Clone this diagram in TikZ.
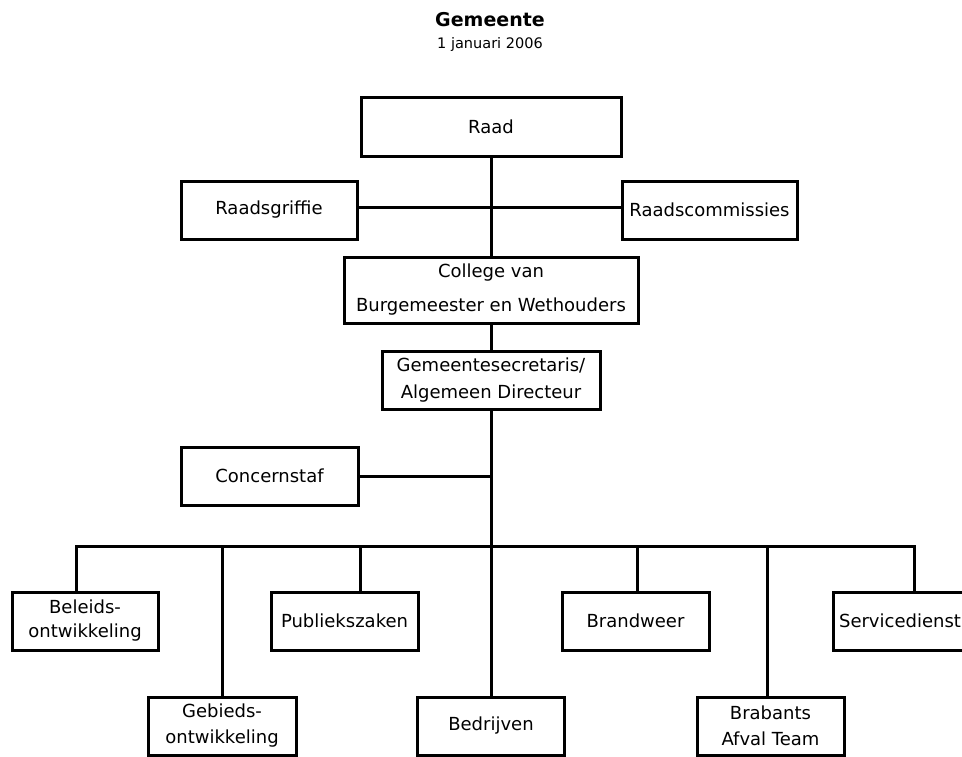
\documentclass[tikz,border=0pt]{standalone}
\usepackage{fontspec}
\setmainfont{DejaVu Sans}
\begin{document}
\begin{tikzpicture}[x=1pt,y=-1pt,
  box/.style={draw,line width=3pt,rectangle,inner sep=0pt,align=center,
              minimum height=58pt,font=\fontsize{18}{25}\selectfont},
  link/.style={line width=3pt,line join=miter}]
\useasboundingbox (0,0) rectangle (962,756);

% heading
\node[anchor=base,font=\bfseries\fontsize{19}{19}\selectfont] (title) at (490,26) {Gemeente};
\node[anchor=base,font=\fontsize{14.5}{15}\selectfont] (date) at (490,48) {1 januari 2006};

% council level
\node[box,minimum width=260pt,minimum height=59pt] (raad) at (491,126.5) {Raad};
\node[box,minimum width=176pt] (griffie) at (269,210) {Raadsgriffie};
\node[box,minimum width=175pt] (commissies) at (709.5,210) {Raadscommissies};
\node[box,minimum width=294pt,minimum height=66pt] (college) at (491,290)
  {College van\\[9pt]Burgemeester en Wethouders};
\node[box,minimum width=218pt,font=\fontsize{18}{27}\selectfont] (gemsec) at (491,380.5)
  {Gemeentesecretaris/\\Algemeen Directeur};
\node[box,minimum width=177pt] (concern) at (269.5,476) {Concernstaf};

% departments, upper row
\node[box,minimum width=146pt,font=\fontsize{18}{24}\selectfont] (beleid) at (85,621) {Beleids-\\ontwikkeling};
\node[box,minimum width=147pt] (publiek) at (344.5,621) {Publiekszaken};
\node[box,minimum width=147pt] (brandweer) at (635.5,621) {Brandweer};
\node[box,minimum width=134pt] (service) at (900,621) {Servicedienst};

% departments, lower row
\node[box,minimum width=148pt,font=\fontsize{18}{26}\selectfont] (gebied) at (222,726) {Gebieds-\\ontwikkeling};
\node[box,minimum width=147pt] (bedrijven) at (491,726) {Bedrijven};
\node[box,minimum width=147pt,font=\fontsize{18}{26}\selectfont] (bat) at (770.5,726) {Brabants\\Afval Team};

% junction points
\coordinate (jraad) at (491,207);
\coordinate (hub) at (491,546);
\coordinate (busL) at (76,546);
\coordinate (busR) at (914,546);
\coordinate (jgeb) at (222,546);
\coordinate (jpub) at (360,546);
\coordinate (jbrw) at (637,546);
\coordinate (jbat) at (767,546);

% connectors
\draw[link] (raad.south) -- (college.north);
\draw[link] (griffie.east |- jraad) -- (commissies.west |- jraad);
\draw[link] (college.south) -- (gemsec.north);
\draw[link] (gemsec.south) -- (bedrijven.north);
\draw[link] (concern.east) -- (concern.east -| hub);
\draw[link] (busL |- beleid.north) -- (busL) -- (busR) -- (busR |- service.north);
\draw[link] (jgeb) -- (jgeb |- gebied.north);
\draw[link] (jpub) -- (jpub |- publiek.north);
\draw[link] (jbrw) -- (jbrw |- brandweer.north);
\draw[link] (jbat) -- (jbat |- bat.north);
\end{tikzpicture}
\end{document}
